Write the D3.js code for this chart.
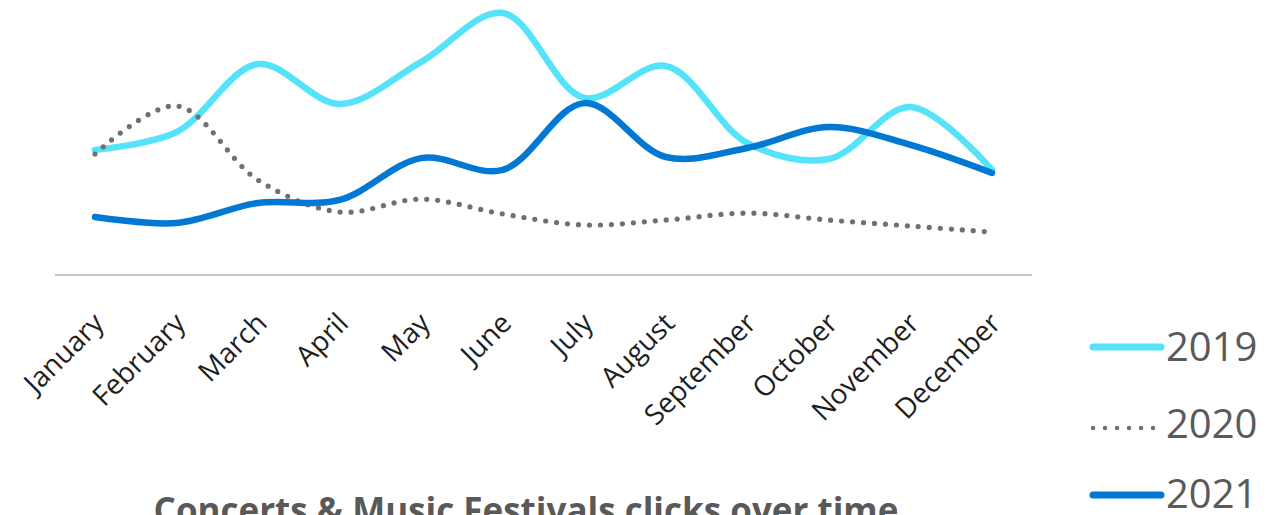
<!DOCTYPE html>
<html>
<head>
<meta charset="utf-8">
<script src="https://cdn.jsdelivr.net/npm/d3@7"></script>
<style>
  html, body { margin: 0; padding: 0; background: #fff; }
  svg { display: block; }
</style>
</head>
<body>
<svg id="chart" width="1286" height="515"></svg>
<script>
const months = ["January","February","March","April","May","June","July","August","September","October","November","December"];
const years = ["2019","2020","2021"];
const values2019 = [45.5, 52.0, 76.7, 62.2, 77.5, 95.3, 64.4, 76.0, 48.0, 42.2, 61.1, 38.2];
const values2020 = [44.0, 61.5, 34.5, 22.9, 27.6, 22.2, 18.2, 20.0, 22.5, 20.0, 17.8, 15.6];
const values2021 = [21.1, 18.9, 26.2, 27.3, 42.5, 38.2, 62.5, 42.9, 46.2, 53.8, 47.3, 37.1];
const title = "Concerts & Music Festivals clicks over time";

const series = [
  { name: years[0], values: values2019, color: "#55E3FA", width: 6.5, dash: null },
  { name: years[1], values: values2020, color: "#707070", width: 5.2, dash: "0 11" },
  { name: years[2], values: values2021, color: "#0078D4", width: 6.5, dash: null }
];

const svg = d3.select("#chart");
const x = d3.scalePoint().domain(months).range([95, 992]);
const y = d3.scaleLinear().domain([0, 100]).range([275, 0]);

// baseline
svg.append("line")
  .attr("x1", 55).attr("x2", 1032)
  .attr("y1", y(0)).attr("y2", y(0))
  .attr("stroke", "#c6c6c6").attr("stroke-width", 2);

// x labels
const xAxis = d3.axisBottom(x).tickSize(0).tickPadding(0);
const gx = svg.append("g").attr("transform", `translate(0,${y(0)})`).call(xAxis);
gx.select(".domain").remove();
gx.selectAll(".tick text")
  .attr("font-family", "'Open Sans', sans-serif")
  .attr("font-size", 28)
  .attr("fill", "#1f1f1f")
  .attr("text-anchor", "end")
  .attr("x", 0).attr("y", 0).attr("dy", "0.35em")
  .attr("transform", "translate(3,43) rotate(-45)");

// lines
const line = d3.line()
  .x((d, i) => x(months[i]))
  .y(d => y(d))
  .curve(d3.curveCatmullRom.alpha(0.5));

series.forEach(s => {
  svg.append("path")
    .datum(s.values)
    .attr("d", line)
    .attr("fill", "none")
    .attr("stroke", s.color)
    .attr("stroke-width", s.width)
    .attr("stroke-linecap", "round")
    .attr("stroke-linejoin", "round")
    .attr("stroke-dasharray", s.dash);
});

// legend
const legendY = [347, 428, 495];
const textY = [361, 438, 508];
series.forEach((s, i) => {
  const g = svg.append("g");
  g.append("line")
    .attr("x1", 1093).attr("x2", s.dash ? 1154 : 1161)
    .attr("y1", legendY[i]).attr("y2", legendY[i])
    .attr("stroke", s.color)
    .attr("stroke-width", s.dash ? 4.5 : 7)
    .attr("stroke-linecap", "round")
    .attr("stroke-dasharray", s.dash ? "0 12" : null);
  g.append("text")
    .attr("x", 1166).attr("y", textY[i])
    .attr("font-family", "'Open Sans', sans-serif")
    .attr("font-size", 40)
    .attr("fill", "#5a5a5a")
    .text(s.name);
});

// title
svg.append("text")
  .attr("x", 526).attr("y", 523)
  .attr("text-anchor", "middle")
  .attr("font-family", "'Open Sans', sans-serif")
  .attr("font-weight", "bold")
  .attr("font-size", 35)
  .attr("fill", "#595959")
  .text(title);
</script>
</body>
</html>
